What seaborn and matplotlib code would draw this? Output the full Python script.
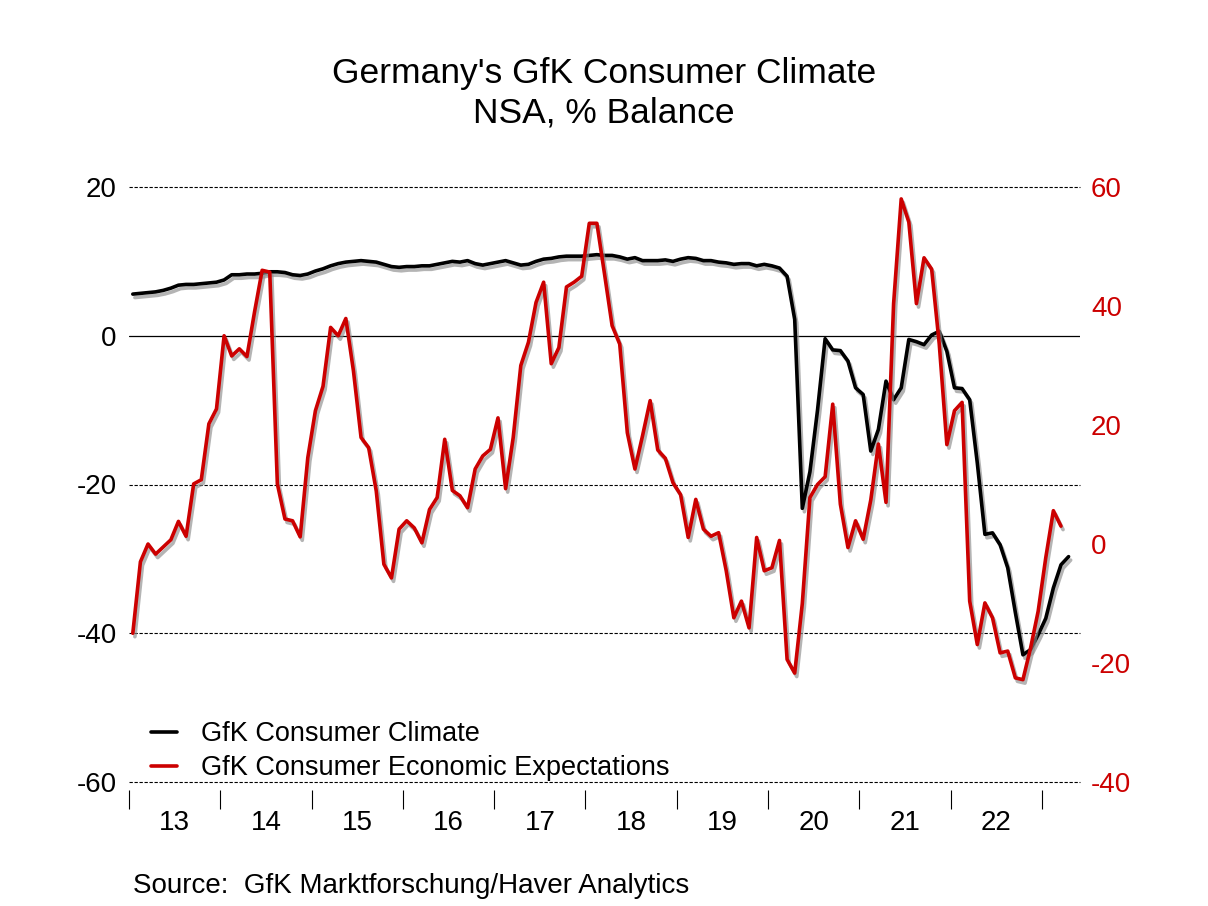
import numpy as np
import pandas as pd
import seaborn as sns
import matplotlib
matplotlib.use('Agg')
import matplotlib.pyplot as plt
import matplotlib.patheffects as pe
from matplotlib.ticker import FixedLocator, NullFormatter, FixedFormatter

# GfK consumer climate, monthly Jan 2013 - Apr 2023
climate = [
    5.6, 5.7, 5.8, 5.9, 6.1, 6.4, 6.8, 6.9, 6.9, 7.0, 7.1, 7.2,
    7.5, 8.2, 8.2, 8.3, 8.3, 8.4, 8.6, 8.6, 8.5, 8.2, 8.1, 8.3,
    8.7, 9.0, 9.4, 9.7, 9.9, 10.0, 10.1, 10.0, 9.9, 9.6, 9.3, 9.2,
    9.3, 9.3, 9.4, 9.4, 9.6, 9.8, 10.0, 9.9, 10.1, 9.7, 9.5, 9.7,
    9.9, 10.1, 9.8, 9.5, 9.6, 10.0, 10.3, 10.4, 10.6, 10.7, 10.7, 10.7,
    10.8, 10.9, 10.8, 10.8, 10.6, 10.3, 10.5, 10.1, 10.1, 10.1, 10.2, 10.0,
    10.3, 10.5, 10.4, 10.1, 10.1, 9.9, 9.8, 9.6, 9.7, 9.7, 9.4, 9.6,
    9.4, 9.1, 8.0, 2.2, -23.2, -18.3, -10.0, -0.4, -1.9, -2.0, -3.4, -7.0,
    -7.9, -15.5, -12.6, -6.1, -8.6, -7.0, -0.5, -0.8, -1.2, 0.1, 0.6, -2.1,
    -7.0, -7.1, -8.6, -17.1, -26.7, -26.5, -28.1, -31.2, -37.2, -42.9, -42.2, -40.2,
    -38.0, -33.9, -30.8, -29.7,
]

# GfK consumer economic expectations, monthly Jan 2013 - Mar 2023
expectations = [
    -15.0, -3.0, 0.0, -1.7, -0.5, 0.7, 3.8, 1.3, 10.1, 10.8, 20.2, 22.7,
    35.0, 31.6, 32.8, 31.5, 39.0, 46.0, 45.7, 10.1, 4.2, 3.9, 1.2, 14.5,
    22.4, 26.5, 36.4, 35.0, 37.9, 29.1, 17.9, 16.2, 8.9, -3.4, -5.7, 2.5,
    3.9, 2.7, 0.2, 5.8, 7.8, 17.6, 9.0, 8.1, 6.1, 12.6, 14.8, 15.9,
    21.2, 9.3, 17.9, 30.0, 33.9, 40.6, 44.0, 30.3, 33.0, 43.2, 44.0, 45.0,
    53.9, 53.9, 45.4, 36.7, 33.6, 18.7, 12.6, 18.2, 24.1, 15.8, 14.4, 10.3,
    8.3, 1.1, 7.5, 2.5, 1.3, 1.9, -4.5, -12.4, -9.6, -14.1, 1.1, -4.5,
    -4.0, 0.6, -19.4, -21.7, -10.0, 7.8, 10.0, 11.3, 23.5, 6.7, -0.6, 3.9,
    0.8, 7.4, 16.8, 7.0, 40.4, 58.0, 54.1, 40.4, 48.1, 46.2, 33.6, 16.7,
    22.4, 23.8, -9.6, -16.9, -9.9, -12.4, -18.3, -18.0, -22.5, -22.8, -17.5, -11.3,
    -2.3, 5.6, 3.0,
]

year_labels = ['13', '14', '15', '16', '17', '18', '19', '20', '21', '22']
left_ticks = [-60, -40, -20, 0, 20]
right_ticks = [-40, -20, 0, 20, 40, 60]

RED = '#CC0000'
FS = 20

# month index -> decimal year, points at mid month
t_clim = 2013 + (np.arange(len(climate)) + 0.5) / 12
t_exp = 2013 + (np.arange(len(expectations)) + 0.5) / 12
df_c = pd.DataFrame({'t': t_clim, 'v': climate})
df_e = pd.DataFrame({'t': t_exp, 'v': expectations})

sns.set_style('white')
plt.rcParams['font.family'] = ['Liberation Sans', 'DejaVu Sans']
plt.rcParams['text.color'] = 'black'
plt.rcParams['xtick.color'] = 'black'
plt.rcParams['ytick.color'] = 'black'

fig = plt.figure(figsize=(12.08, 9.06), dpi=100)
ax = fig.add_axes([129 / 1208, 1 - 782 / 906, (1080 - 129) / 1208, (782 - 187) / 906])

shadow = [pe.SimpleLineShadow(offset=(1.5, -2.5), shadow_color='#8c8c8c', alpha=0.65), pe.Normal()]

sns.lineplot(x='t', y='v', data=df_c, ax=ax, color='black', linewidth=2.6, legend=False)
ax.lines[-1].set_path_effects(shadow)
ax.set_ylim(-60, 20)
ax.set_xlim(2013, 2013 + 125 / 12)

ax2 = ax.twinx()
sns.lineplot(x='t', y='v', data=df_e, ax=ax2, color=RED, linewidth=2.6, legend=False)
ax2.lines[-1].set_path_effects(shadow)
ax2.set_ylim(-40, 60)
ax2.set_xlim(2013, 2013 + 125 / 12)

for a in (ax, ax2):
    for s in a.spines.values():
        s.set_visible(False)
    a.set_xlabel('')
    a.set_ylabel('')

# grid lines (left scale)
for v in left_ticks:
    if v == 0:
        ax.axhline(v, color='black', linewidth=0.9, zorder=1)
    else:
        ax.axhline(v, color='black', linewidth=0.8, linestyle=(0, (3, 1.5)), zorder=1, clip_on=False)

ax.set_yticks(left_ticks)
ax.set_yticklabels([str(v) for v in left_ticks])
ax.tick_params(axis='y', length=0, pad=9, labelsize=FS)
ax2.set_yticks(right_ticks)
ax2.set_yticklabels([str(v) for v in right_ticks])
ax2.tick_params(axis='y', length=0, pad=8, labelsize=FS, labelcolor=RED)

# x axis: year boundary ticks, labels in between
ax.spines['bottom'].set_position(('outward', 6))
ax.xaxis.set_major_locator(FixedLocator(np.arange(2013, 2024)))
ax.xaxis.set_major_formatter(NullFormatter())
ax.xaxis.set_minor_locator(FixedLocator(np.arange(2013, 2023) + 0.5))
ax.xaxis.set_minor_formatter(FixedFormatter(year_labels))
ax.tick_params(axis='x', which='major', length=14, width=0.8, color='black', direction='out', bottom=True)
ax.tick_params(axis='x', which='minor', length=0, pad=14, labelsize=FS, bottom=True)
ax2.tick_params(axis='x', which='both', bottom=False, labelbottom=False)

# legend
h1 = plt.Line2D([], [], color='black', linewidth=2.6)
h2 = plt.Line2D([], [], color=RED, linewidth=2.6)
fig.legend([h1, h2], ['GfK Consumer Climate', 'GfK Consumer Economic Expectations'],
           loc='upper left', bbox_to_anchor=(151 / 1208, 1 - 721 / 906),
           frameon=False, fontsize=19.5, handlelength=0.95, handletextpad=0.9,
           labelspacing=0.3, borderpad=0, borderaxespad=0)

fig.text(0.5, 1 - 73 / 906, "Germany's GfK Consumer Climate", ha='center', va='center', fontsize=25.5)
fig.text(0.5, 1 - 113 / 906, 'NSA, % Balance', ha='center', va='center', fontsize=25.5)
fig.text(133 / 1208, 1 - 886 / 906, 'Source:  GfK Marktforschung/Haver Analytics',
         ha='left', va='center', fontsize=FS)

fig.savefig('out.png', dpi=100)
